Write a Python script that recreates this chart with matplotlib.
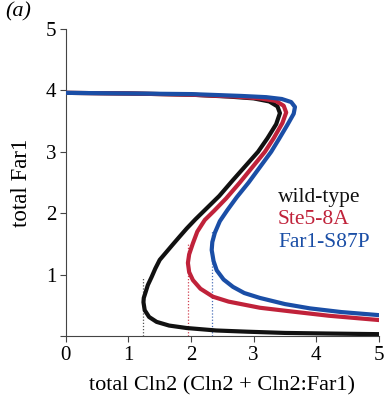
import matplotlib.pyplot as plt

# total Cln2 (x) and total Far1 (y)
wt_x = [0.0, 1.0, 2.0, 2.6, 3.0, 3.25, 3.38, 3.42, 3.36, 3.22, 3.07, 2.87, 2.67,
        2.45, 2.2, 2.07, 1.93, 1.81, 1.70, 1.60, 1.50, 1.43, 1.37, 1.31, 1.27,
        1.245, 1.24, 1.26, 1.33, 1.45, 1.65, 1.93, 2.4, 2.9, 3.5, 4.2, 5.0]
wt_y = [3.96, 3.95, 3.93, 3.90, 3.87, 3.82, 3.74, 3.63, 3.45, 3.22, 3.0, 2.77, 2.54,
        2.28, 2.03, 1.90, 1.75, 1.61, 1.48, 1.36, 1.24, 1.10, 0.96, 0.83, 0.70,
        0.62, 0.55, 0.42, 0.31, 0.23, 0.17, 0.13, 0.09, 0.07, 0.05, 0.04, 0.03]

ste_x = [0.0, 1.0, 2.0, 2.7, 3.1, 3.35, 3.48, 3.52, 3.46, 3.32, 3.18, 2.98, 2.78,
         2.56, 2.37, 2.22, 2.10, 2.03, 1.97, 1.95, 1.97, 2.03, 2.15, 2.35, 2.6,
         3.1, 3.6, 4.2, 5.0]
ste_y = [3.96, 3.95, 3.93, 3.90, 3.87, 3.83, 3.75, 3.64, 3.47, 3.22, 3.0, 2.75, 2.5,
         2.24, 2.04, 1.89, 1.70, 1.51, 1.33, 1.19, 1.04, 0.91, 0.77, 0.64, 0.56,
         0.46, 0.40, 0.33, 0.26]

far_x = [0.0, 1.0, 2.0, 2.8, 3.2, 3.45, 3.6, 3.66, 3.64, 3.54, 3.40, 3.28, 3.10,
         2.92, 2.73, 2.58, 2.46, 2.38, 2.34, 2.33, 2.36, 2.41, 2.52, 2.67, 2.85,
         3.10, 3.5, 3.9, 4.4, 5.0]
far_y = [3.96, 3.95, 3.94, 3.91, 3.89, 3.86, 3.81, 3.73, 3.62, 3.44, 3.2, 3.0, 2.75,
         2.5, 2.26, 2.05, 1.87, 1.68, 1.53, 1.40, 1.22, 1.07, 0.92, 0.80, 0.70,
         0.62, 0.52, 0.45, 0.39, 0.34]

# saddle-node positions (dotted markers)
dot_x = [1.24, 1.95, 2.33]
dot_top = [0.94, 1.51, 1.73]

names = ['wild-type', 'Ste5-8A', 'Far1-S87P']
colors = ['#111111', '#c0223a', '#1a4ea6']
dot_colors = ['#555555', '#d04050', '#4a6fb8']

plt.rcParams['font.family'] = ['Liberation Serif', 'DejaVu Serif']

fig = plt.figure(figsize=(3.85, 4.0), dpi=100)
ax = fig.add_axes([0.171, 0.16, 0.813, 0.7675])

for i in range(3):
    ax.plot([dot_x[i], dot_x[i]], [0, dot_top[i]], color=dot_colors[i],
            linestyle=(0, (1, 1.5)), linewidth=0.9, zorder=1)

curves = [(wt_x, wt_y), (ste_x, ste_y), (far_x, far_y)]
for i in range(3):
    ax.plot(curves[i][0], curves[i][1], color=colors[i], linewidth=3.0,
            solid_capstyle='round', solid_joinstyle='round', zorder=2 + i)

# legend as coloured text
leg_y = [2.26, 1.89, 1.52]
for i in range(3):
    ax.text(3.39, leg_y[i], names[i], color=colors[i], fontsize=15.5,
            va='center', ha='left')

ax.set_xlim(0, 5)
ax.set_ylim(0, 5)
ax.set_xticks([0, 1, 2, 3, 4, 5])
ax.set_yticks([0, 1, 2, 3, 4, 5])
ax.set_yticklabels(['', '1', '2', '3', '4', '5'])
ax.tick_params(labelsize=15, length=4, width=0.8, color='#444444', pad=3)
ax.spines['top'].set_visible(False)
ax.spines['right'].set_visible(False)
ax.spines['left'].set_color('#444444')
ax.spines['bottom'].set_color('#444444')
ax.spines['left'].set_linewidth(0.8)
ax.spines['bottom'].set_linewidth(0.8)

ax.set_xlabel('total Cln2 (Cln2 + Cln2:Far1)', fontsize=16, labelpad=8)
ax.set_ylabel('total Far1', fontsize=16.5, labelpad=10)

fig.text(0.013, 0.97, '(a)', fontsize=16, style='italic', va='center', ha='left')

fig.savefig('out.png', dpi=100)
